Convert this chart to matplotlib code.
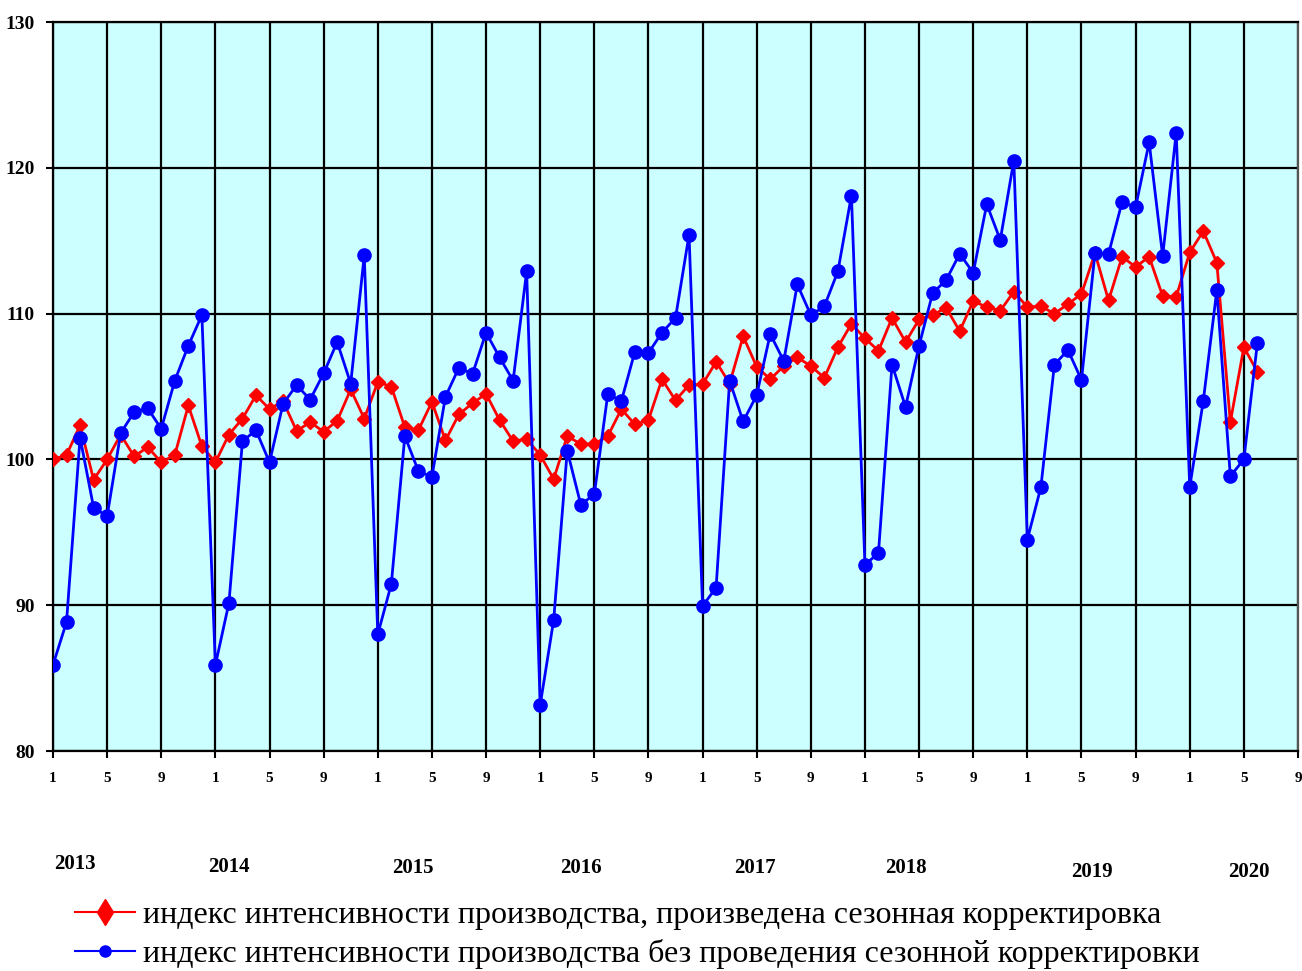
import numpy as np
import matplotlib.pyplot as plt

plt.rcParams['font.family'] = ['Liberation Serif', 'DejaVu Serif']

# monthly index values, Jan 2013 .. Jun 2020
adjusted = [
    100.0, 100.3, 102.35, 98.6, 100.0, 101.7, 100.2, 100.85, 99.8, 100.3, 103.7, 100.9,
    99.8, 101.7, 102.8, 104.4, 103.45, 104.0, 101.95, 102.55, 101.9, 102.65, 104.8, 102.8,
    105.3, 105.0, 102.2, 102.0, 103.95, 101.3, 103.1, 103.85, 104.5, 102.7, 101.25, 101.4,
    100.3, 98.65, 101.6, 101.05, 101.05, 101.6, 103.45, 102.4, 102.7, 105.5, 104.05, 105.1,
    105.15, 106.7, 105.2, 108.45, 106.35, 105.5, 106.4, 107.0, 106.4, 105.6, 107.7, 109.3,
    108.3, 107.45, 109.7, 108.05, 109.6, 109.9, 110.4, 108.8, 110.85, 110.45, 110.2, 111.5,
    110.45, 110.5, 110.0, 110.65, 111.35, 114.15, 110.9, 113.9, 113.2, 113.9, 111.2, 111.15,
    114.2, 115.65, 113.5, 102.55, 107.7, 106.0,
]
unadjusted = [
    85.9, 88.85, 101.5, 96.7, 96.1, 101.8, 103.25, 103.5, 102.1, 105.4, 107.8, 109.9,
    85.9, 90.15, 101.25, 102.0, 99.8, 103.8, 105.1, 104.1, 105.9, 108.05, 105.2, 114.0,
    88.0, 91.45, 101.6, 99.2, 98.8, 104.3, 106.3, 105.85, 108.7, 107.0, 105.4, 112.9,
    83.15, 89.0, 100.6, 96.9, 97.6, 104.5, 104.0, 107.4, 107.3, 108.7, 109.7, 115.4,
    89.95, 91.2, 105.4, 102.6, 104.4, 108.6, 106.75, 112.0, 109.9, 110.5, 112.9, 118.1,
    92.75, 93.6, 106.5, 103.6, 107.8, 111.4, 112.3, 114.1, 112.8, 117.5, 115.05, 120.5,
    94.5, 98.1, 106.5, 107.5, 105.45, 114.15, 114.1, 117.65, 117.3, 121.75, 113.95, 122.4,
    98.1, 104.0, 111.6, 98.85, 100.0, 108.0,
]
month_labels = ['1', '5', '9'] * 7 + ['1', '5', '9']
years = ['2013', '2014', '2015', '2016', '2017', '2018', '2019', '2020']
year_x = [1.63, 13.0, 26.6, 39.0, 51.9, 63.0, 76.8, 88.4]
year_y = [-0.155, -0.159, -0.160, -0.160, -0.160, -0.160, -0.166, -0.166]

label_adj = 'индекс интенсивности производства, произведена сезонная корректировка'
label_raw = 'индекс интенсивности производства без проведения сезонной корректировки'

x = np.arange(len(adjusted))

fig = plt.figure(figsize=(13.02, 9.71), dpi=100)
ax = fig.add_axes([53 / 1302, 1 - 751 / 971, 1245 / 1302, 729 / 971])
ax.set_facecolor('#ccffff')

ln1, = ax.plot(x, adjusted, color='#ff0000', lw=2, marker='D', ms=7, zorder=3)
ln2, = ax.plot(x, unadjusted, color='#0000ff', lw=2, marker='o', ms=9.5, zorder=4)

ax.set_xlim(0, 92)
ax.set_ylim(80, 130)
ax.set_xticks(np.arange(0, 93, 4))
ax.set_xticklabels(month_labels)
ax.set_yticks([80, 90, 100, 110, 120, 130])
ax.grid(True, color='black', lw=1.6)
ax.set_axisbelow(True)
for s in ax.spines.values():
    s.set_color('black')
    s.set_linewidth(1.6)
ax.spines['right'].set_color('#555555')
ax.tick_params(axis='x', length=5, width=1.5, pad=10, labelsize=11)
ax.tick_params(axis='y', length=5, width=1.5, pad=8, labelsize=14)
for lab in ax.get_xticklabels() + ax.get_yticklabels():
    lab.set_fontweight('bold')

for yr, xx, yy in zip(years, year_x, year_y):
    ax.text(xx, yy, yr, transform=ax.get_xaxis_transform(), ha='center', va='center',
            fontsize=15, fontweight='bold')

h1, = ax.plot([], [], color='#ff0000', lw=1.5, marker='d', ms=13)
h2, = ax.plot([], [], color='#0000ff', lw=1.5, marker='o', ms=8)
fig.legend([h1, h2], [label_adj, label_raw], loc='upper left', bbox_to_anchor=(0.045, 0.089),
           frameon=False, fontsize=23, handlelength=1.9, handletextpad=0.25, labelspacing=0.28,
           borderpad=0)

fig.savefig('out.png', dpi=100)
